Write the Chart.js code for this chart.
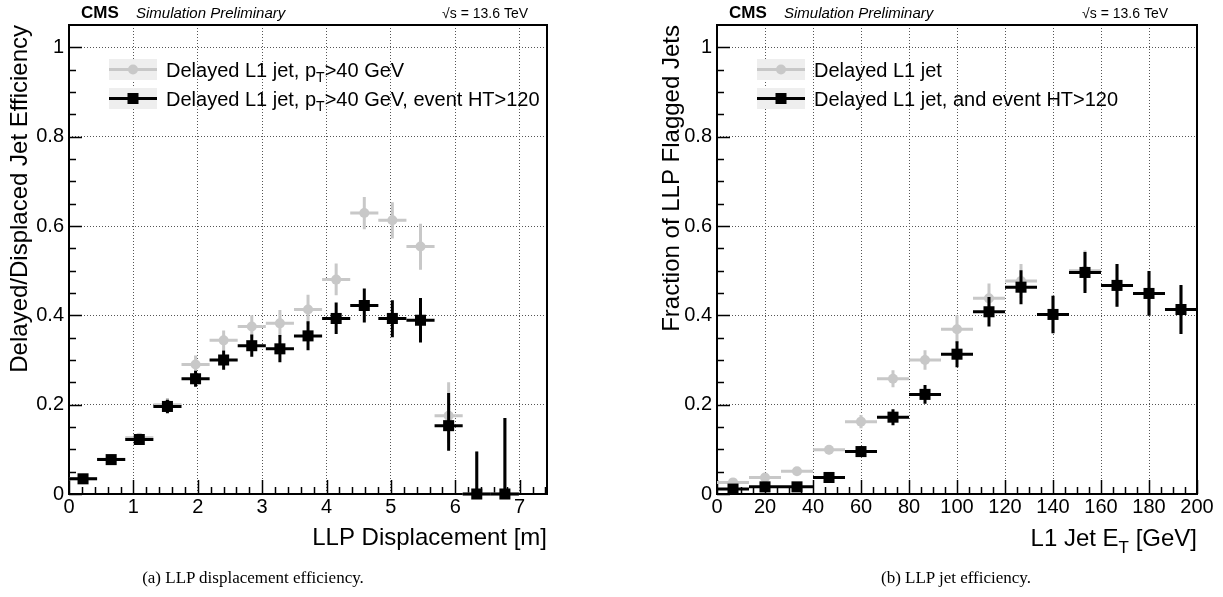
<!DOCTYPE html>
<html>
<head>
<meta charset="utf-8">
<script src="https://cdn.jsdelivr.net/npm/chart.js@4.4.1/dist/chart.umd.min.js"></script>
<style>
html,body{margin:0;padding:0;background:#fff;width:1223px;height:597px;overflow:hidden;}
.wrap{position:absolute;top:0;height:597px;}
#wa{left:0;width:612px;}
#wb{left:612px;width:611px;}
.cap{position:absolute;top:566px;height:24px;line-height:24px;width:500px;text-align:center;font-family:"Liberation Serif","Times New Roman",serif;font-size:17px;color:#000;white-space:nowrap;}
</style>
</head>
<body>
<div class="wrap" id="wa"><canvas id="ca"></canvas></div>
<div class="wrap" id="wb"><canvas id="cb"></canvas></div>
<div class="cap" style="left:3px;">(a) LLP displacement efficiency.</div>
<div class="cap" style="left:706px;">(b) LLP jet efficiency.</div>
<script>
// ---------------- DATA ----------------
// (a) LLP displacement [m]
const dispCenters   = [0.218,0.655,1.092,1.529,1.966,2.402,2.839,3.276,3.713,4.150,4.587,5.023,5.460,5.897,6.334,6.771];
const dispHalfWidth = 0.2184;
const dispAxisMax   = 7.425;
// grey: Delayed L1 jet, pT>40 GeV
const dispEffPt    = [0.034,0.078,0.126,0.200,0.290,0.344,0.375,0.382,0.413,0.480,0.629,0.613,0.554,0.175,0,0];
const dispErrUpPt  = [0.005,0.006,0.008,0.015,0.020,0.022,0.025,0.030,0.033,0.036,0.036,0.040,0.051,0.075,0.095,0.170];
const dispErrDnPt  = [0.005,0.006,0.008,0.015,0.019,0.022,0.025,0.030,0.033,0.035,0.036,0.041,0.052,0.060,0,0];
// black: Delayed L1 jet, pT>40 GeV, event HT>120
const dispEffHT    = [0.034,0.077,0.122,0.196,0.258,0.300,0.332,0.325,0.354,0.393,0.422,0.393,0.389,0.153,0,0];
const dispErrUpHT  = [0.005,0.006,0.008,0.015,0.018,0.021,0.025,0.031,0.033,0.036,0.038,0.041,0.050,0.073,0.095,0.170];
const dispErrDnHT  = [0.005,0.006,0.008,0.015,0.018,0.022,0.025,0.030,0.032,0.035,0.038,0.042,0.050,0.056,0,0];

// (b) L1 jet ET [GeV]
const etCenters   = [6.67,20,33.33,46.67,60,73.33,86.67,100,113.33,126.67,140,153.33,166.67,180,193.33];
const etHalfWidth = 6.667;
const etAxisMax   = 200;
// grey: Delayed L1 jet
const etFracAll    = [0.026,0.037,0.051,0.099,0.162,0.258,0.300,0.369,0.438,0.477,0.402,0.500,0.467,0.449,0.413];
const etErrAll     = [0.005,0.006,0.007,0.010,0.015,0.019,0.022,0.031,0.033,0.038,0.042,0.045,0.048,0.050,0.054];
// black: Delayed L1 jet, and event HT>120
const etFracHT     = [0.011,0.016,0.016,0.037,0.095,0.172,0.223,0.313,0.408,0.463,0.402,0.496,0.467,0.449,0.413];
const etErrHT      = [0.004,0.005,0.005,0.007,0.012,0.018,0.021,0.029,0.033,0.038,0.042,0.046,0.048,0.050,0.055];

// tick labels
const effTicks  = [0,0.2,0.4,0.6,0.8,1];
const dispTicks = [0,1,2,3,4,5,6,7];
const etTicks   = [0,20,40,60,80,100,120,140,160,180,200];
const effAxisMax = 1.05;

// ---------------- HELPERS ----------------
const SANS = '"Liberation Sans", Arial, Helvetica, sans-serif';

function pts(xs, ys, up, dn) {
  return xs.map((x, i) => ({x: x, y: ys[i], eUp: up[i], eDn: dn[i]}));
}

function drawParts(ctx, parts, x, y, size, align) {
  const widths = parts.map(p => {
    ctx.font = (p.sub ? Math.round(size * 0.7) : size) + 'px ' + SANS;
    return ctx.measureText(p.t).width;
  });
  const total = widths.reduce((a, b) => a + b, 0);
  let cx = align === 'right' ? x - total : x;
  ctx.textAlign = 'left';
  ctx.textBaseline = 'alphabetic';
  parts.forEach((p, i) => {
    ctx.font = (p.sub ? Math.round(size * 0.7) : size) + 'px ' + SANS;
    ctx.fillText(p.t, cx, p.sub ? y + size * 0.28 : y);
    cx += widths[i];
  });
}

const errPlugin = {
  id: 'errbars',
  beforeDatasetDraw(chart, args) {
    const ds = chart.data.datasets[args.index];
    const xs = chart.scales.x, ys = chart.scales.y, ctx = chart.ctx;
    ctx.save();
    ctx.strokeStyle = ds.errColor;
    ctx.lineWidth = ds.errWidth;
    ctx.lineCap = 'butt';
    ds.data.forEach(p => {
      const px = xs.getPixelForValue(p.x), py = ys.getPixelForValue(p.y);
      ctx.beginPath();
      ctx.moveTo(xs.getPixelForValue(p.x - ds.xerr), py);
      ctx.lineTo(xs.getPixelForValue(p.x + ds.xerr), py);
      ctx.moveTo(px, ys.getPixelForValue(p.y - p.eDn));
      ctx.lineTo(px, ys.getPixelForValue(p.y + p.eUp));
      ctx.stroke();
    });
    ctx.restore();
  }
};

const framePlugin = {
  id: 'rootframe',
  beforeDatasetsDraw(chart, args, o) {
    const {ctx, chartArea: a} = chart;
    const xs = chart.scales.x, ys = chart.scales.y;
    ctx.save();
    ctx.strokeStyle = '#000';
    ctx.lineWidth = 1.5;
    ctx.beginPath();
    for (let k = 0; ; k++) {
      const v = k * o.xMinor;
      if (v > xs.max + 1e-9) break;
      const major = Math.abs(v / o.xMajor - Math.round(v / o.xMajor)) < 1e-6;
      const px = Math.round(xs.getPixelForValue(v)) + 0.5;
      ctx.moveTo(px, a.bottom);
      ctx.lineTo(px, a.bottom - (major ? 14 : 7));
    }
    for (let k = 0; ; k++) {
      const v = k * o.yMinor;
      if (v > ys.max - 1e-6) break;
      const major = Math.abs(v / o.yMajor - Math.round(v / o.yMajor)) < 1e-6;
      const py = Math.round(ys.getPixelForValue(v)) + 0.5;
      ctx.moveTo(a.left, py);
      ctx.lineTo(a.left + (major ? 13 : 7), py);
    }
    ctx.stroke();
    ctx.lineWidth = 2;
    ctx.strokeRect(a.left, a.top, a.right - a.left, a.bottom - a.top);
    ctx.restore();
  },
  afterDraw(chart, args, o) {
    const {ctx, chartArea: a} = chart;
    ctx.save();
    ctx.fillStyle = '#000';
    ctx.textBaseline = 'alphabetic';
    ctx.textAlign = 'left';
    ctx.font = 'bold 17px ' + SANS;
    ctx.fillText('CMS', a.left + 12, 18);
    ctx.font = 'italic 15px ' + SANS;
    ctx.fillText('Simulation Preliminary', a.left + 67, 18);
    ctx.font = '14px ' + SANS;
    ctx.textAlign = 'right';
    ctx.fillText('\u221As = 13.6 TeV', a.right - o.sqrtsOffset, 18);
    o.legend.forEach((e, i) => {
      const bx = a.left + 40, bw = 48, bh = 21;
      const by = a.top + 34 + i * 29;
      ctx.fillStyle = '#eeeeee';
      ctx.fillRect(bx, by, bw, bh);
      const cy = by + bh / 2;
      ctx.strokeStyle = e.color;
      ctx.lineWidth = 3;
      ctx.beginPath();
      ctx.moveTo(bx, cy); ctx.lineTo(bx + bw, cy);
      ctx.stroke();
      ctx.fillStyle = e.color;
      if (e.marker === 'circle') {
        ctx.beginPath();
        ctx.arc(bx + bw / 2, cy, 5, 0, Math.PI * 2);
        ctx.fill();
      } else {
        ctx.fillRect(bx + bw / 2 - 5.5, cy - 5.5, 11, 11);
      }
      ctx.fillStyle = '#000';
      drawParts(ctx, e.parts, bx + 57, cy + 7, 20, 'left');
    });
    if (o.xTitleParts) {
      ctx.fillStyle = '#000';
      drawParts(ctx, o.xTitleParts, a.right, 546, 24, 'right');
    }
    ctx.restore();
  }
};

function buildChart(id, c) {
  const gridColor = (max) => (ctx) => (ctx.tick && ctx.tick.value > 1e-9 && ctx.tick.value < max - 1e-9) ? '#555' : 'rgba(0,0,0,0)';
  return new Chart(document.getElementById(id), {
    type: 'scatter',
    data: {
      datasets: [
        {label: c.blackLabel, data: c.black, pointStyle: 'rect', pointRadius: 7.8, pointHoverRadius: 7.8,
         backgroundColor: '#000', borderWidth: 0, errColor: '#000', errWidth: 3, xerr: c.xerr, clip: false},
        {label: c.greyLabel, data: c.grey, pointStyle: 'circle', pointRadius: 5, pointHoverRadius: 5,
         backgroundColor: '#c8c8c8', borderWidth: 0, errColor: '#c8c8c8', errWidth: 3, xerr: c.xerr, clip: false}
      ]
    },
    options: {
      responsive: true,
      maintainAspectRatio: false,
      animation: false,
      events: [],
      layout: {padding: {left: 0, right: c.padRight, top: 25, bottom: 0}},
      plugins: {
        legend: {display: false},
        tooltip: {enabled: false},
        rootframe: c.frame
      },
      scales: {
        x: {
          type: 'linear', min: 0, max: c.xMax,
          afterBuildTicks: s => { s.ticks = c.xTicks.map(v => ({value: v})); },
          afterFit: s => { s.height = 103; },
          grid: {color: gridColor(c.xMax), lineWidth: 1, drawTicks: false},
          border: {display: false, dash: [1, 2]},
          ticks: {font: {family: SANS, size: 20}, color: '#000', padding: 1, maxRotation: 0, autoSkip: false,
                  callback: v => String(v)},
          title: {display: !!c.xTitle, text: c.xTitle || '', align: 'end', color: '#000',
                  font: {family: SANS, size: 24}, padding: {top: 0, bottom: 44}}
        },
        y: {
          type: 'linear', min: 0, max: effAxisMax,
          afterBuildTicks: s => { s.ticks = effTicks.map(v => ({value: v})); },
          afterFit: s => { s.width = c.yWidth; },
          grid: {color: gridColor(effAxisMax + 1), lineWidth: 1, drawTicks: false},
          border: {display: false, dash: [1, 2]},
          ticks: {font: {family: SANS, size: 20}, color: '#000', padding: 5, autoSkip: false,
                  callback: v => String(v)},
          title: {display: true, text: c.yTitle, align: 'end', color: '#000',
                  font: {family: SANS, size: 24}, padding: {top: c.yTitlePad, bottom: 0}}
        }
      }
    },
    plugins: [errPlugin, framePlugin]
  });
}

buildChart('ca', {
  black: pts(dispCenters, dispEffHT, dispErrUpHT, dispErrDnHT),
  grey: pts(dispCenters, dispEffPt, dispErrUpPt, dispErrDnPt),
  blackLabel: 'Delayed L1 jet, pT>40 GeV, event HT>120',
  greyLabel: 'Delayed L1 jet, pT>40 GeV',
  xerr: dispHalfWidth,
  xMax: dispAxisMax,
  xTicks: dispTicks,
  xTitle: 'LLP Displacement [m]',
  yTitle: 'Delayed/Displaced Jet Efficiency',
  yWidth: 69, yTitlePad: 6, padRight: 65,
  frame: {
    xMinor: 0.2, xMajor: 1, yMinor: 0.05, yMajor: 0.2, sqrtsOffset: 19,
    legend: [
      {color: '#c8c8c8', marker: 'circle', parts: [{t: 'Delayed L1 jet, p'}, {t: 'T', sub: true}, {t: '>40 GeV'}]},
      {color: '#000', marker: 'rect', parts: [{t: 'Delayed L1 jet, p'}, {t: 'T', sub: true}, {t: '>40 GeV, event HT>120'}]}
    ]
  }
});

buildChart('cb', {
  black: pts(etCenters, etFracHT, etErrHT, etErrHT),
  grey: pts(etCenters, etFracAll, etErrAll, etErrAll),
  blackLabel: 'Delayed L1 jet, and event HT>120',
  greyLabel: 'Delayed L1 jet',
  xerr: etHalfWidth,
  xMax: etAxisMax,
  xTicks: etTicks,
  xTitle: '',
  yTitle: 'Fraction of LLP Flagged Jets',
  yWidth: 105, yTitlePad: 46, padRight: 26,
  frame: {
    xMinor: 5, xMajor: 20, yMinor: 0.05, yMajor: 0.2, sqrtsOffset: 29,
    xTitleParts: [{t: 'L1 Jet E'}, {t: 'T', sub: true}, {t: ' [GeV]'}],
    legend: [
      {color: '#c8c8c8', marker: 'circle', parts: [{t: 'Delayed L1 jet'}]},
      {color: '#000', marker: 'rect', parts: [{t: 'Delayed L1 jet, and event HT>120'}]}
    ]
  }
});
</script>
</body>
</html>
